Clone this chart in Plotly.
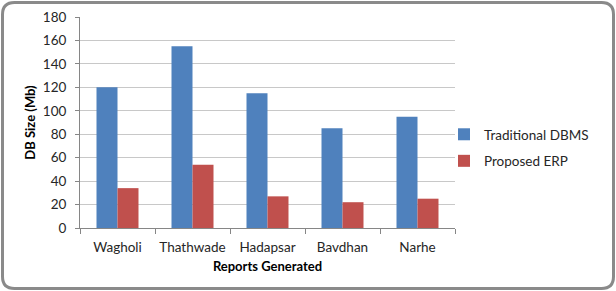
import plotly.graph_objects as go

categories = ["Wagholi", "Thathwade", "Hadapsar", "Bavdhan", "Narhe"]
traditional = [120, 155, 115, 85, 95]
proposed = [34, 54, 27, 22, 25]
y_ticks = [0, 20, 40, 60, 80, 100, 120, 140, 160, 180]

W, H = 616, 291
L, R, T, B = 80, 161, 17, 63
pw, ph = W - L - R, H - T - B

def px(x):
    return (x - L) / pw

def py(y):
    return (H - B - y) / ph

font = "Lato"
fig = go.Figure()
fig.add_trace(go.Bar(x=categories, y=traditional, name="Traditional DBMS",
                     marker=dict(color="#4f81bd", line=dict(width=0)), legendgroup="a"))
fig.add_trace(go.Bar(x=categories, y=proposed, name="Proposed ERP",
                     marker=dict(color="#c0504d", line=dict(width=0)), legendgroup="b"))

# rounded border
x0, x1, y0, y1, r = 2.5, 613.5, 2.5, 288.5, 12
path = (f"M {px(x0+r)},{py(y0)} L {px(x1-r)},{py(y0)} Q {px(x1)},{py(y0)} {px(x1)},{py(y0+r)} "
        f"L {px(x1)},{py(y1-r)} Q {px(x1)},{py(y1)} {px(x1-r)},{py(y1)} "
        f"L {px(x0+r)},{py(y1)} Q {px(x0)},{py(y1)} {px(x0)},{py(y1-r)} "
        f"L {px(x0)},{py(y0+r)} Q {px(x0)},{py(y0)} {px(x0+r)},{py(y0)} Z")
fig.add_shape(type="path", path=path, xref="paper", yref="paper",
              line=dict(color="#8a8a8a", width=3), layer="above")

fig.update_layout(
    width=W, height=H,
    margin=dict(l=L, r=R, t=T, b=B, autoexpand=False),
    paper_bgcolor="white", plot_bgcolor="white",
    barmode="group", bargap=0.44, bargroupgap=0,
    font=dict(family=font, size=13, color="#262626"),
    legend=dict(x=px(444), y=py(119), xanchor="left", yanchor="top",
                traceorder="grouped", tracegroupgap=6, itemwidth=30,
                font=dict(size=13.5, color="#262626"), bgcolor="rgba(0,0,0,0)"),
    xaxis=dict(
        showline=True, linecolor="#868686", linewidth=1,
        ticks="outside", tickson="boundaries", ticklen=5, tickcolor="#868686",
        showgrid=False, tickangle=0, automargin=False, ticklabelstandoff=7,
        title=dict(text="<b>Reports Generated</b>", font=dict(size=13, color="#000000"), standoff=7),
        tickfont=dict(size=13.5),
    ),
    yaxis=dict(
        range=[0, 180], tickvals=y_ticks, automargin=False, ticklabelstandoff=6,
        showline=True, linecolor="#868686", linewidth=1,
        ticks="outside", ticklen=4, tickcolor="#868686",
        showgrid=True, gridcolor="#c8c8c8", gridwidth=1,
        zeroline=False,
        title=dict(text="<b>DB Size (Mb)</b>", font=dict(size=13, color="#000000"), standoff=4),
        tickfont=dict(size=13.5),
    ),
)

fig.write_html("out.html")
